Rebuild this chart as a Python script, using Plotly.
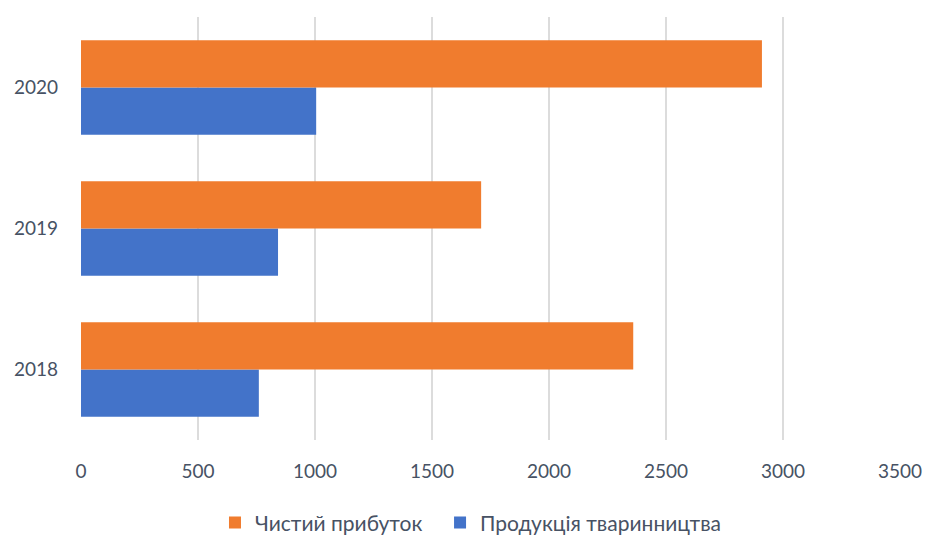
import plotly.graph_objects as go

years = ["2018", "2019", "2020"]
profit = [2360, 1710, 2910]
livestock = [760, 842, 1005]
x_ticks = [0, 500, 1000, 1500, 2000, 2500, 3000, 3500]

text_color = "#475264"
font_family = "Lato, Calibri, Carlito, sans-serif"

fig = go.Figure()
fig.add_trace(go.Bar(
    y=years, x=livestock, orientation="h", name="Продукція тваринництва",
    marker=dict(color="#4373C9", line=dict(width=0)), legend="legend2",
    showlegend=True,
))
fig.add_trace(go.Bar(
    y=years, x=profit, orientation="h", name="Чистий прибуток",
    marker=dict(color="#F07C2E", line=dict(width=0)), legend="legend",
    showlegend=True,
))

leg_common = dict(orientation="h", y=-0.196, yanchor="middle", xanchor="left",
                  font=dict(size=21, color=text_color), itemwidth=30)

fig.update_layout(
    width=927, height=536,
    showlegend=True,
    margin=dict(l=81, r=27, t=17, b=96, autoexpand=False),
    paper_bgcolor="white", plot_bgcolor="white",
    barmode="group", bargap=0.33, bargroupgap=0,
    font=dict(family=font_family, size=19, color=text_color),
    legend=dict(x=0.1636, **leg_common),
    legend2=dict(x=0.4384, **leg_common),
    xaxis=dict(range=[0, 3500], tickvals=x_ticks, showgrid=True, gridcolor="#dcdcdc",
               gridwidth=1.5, zeroline=False, showline=False, ticks="", ticklabelstandoff=18,
               fixedrange=True, automargin=False),
    yaxis=dict(showgrid=False, showline=False, ticks="", ticklabelstandoff=22,
               categoryorder="array", categoryarray=years, automargin=False),
)

fig.write_html("out.html")
